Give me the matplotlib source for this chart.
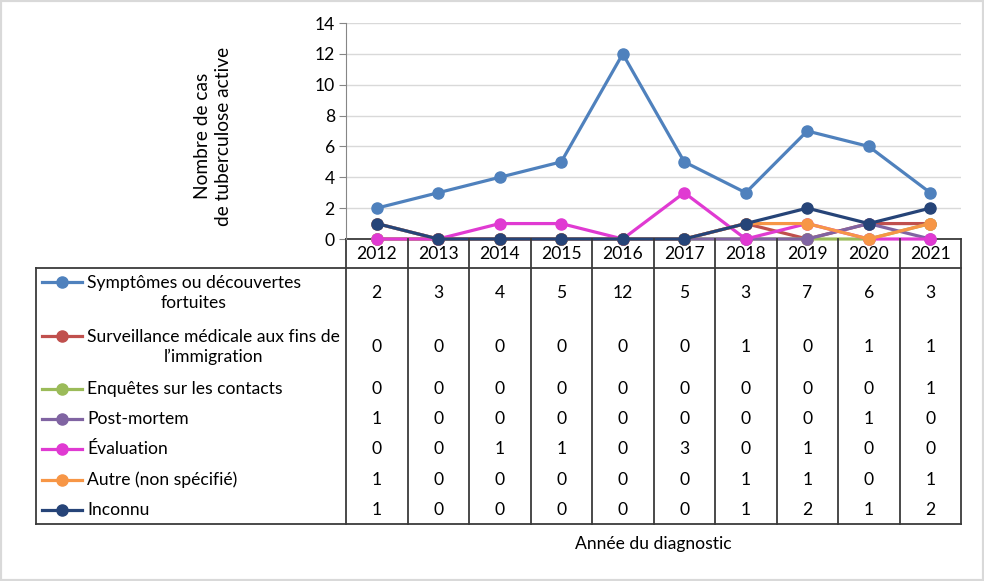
import numpy as np
import matplotlib
matplotlib.use("Agg")
import matplotlib.pyplot as plt
from matplotlib.lines import Line2D
from matplotlib.patches import Rectangle
from matplotlib.transforms import blended_transform_factory

plt.rcParams["font.family"] = ["Lato", "DejaVu Sans"]

YEARS = [2012, 2013, 2014, 2015, 2016, 2017, 2018, 2019, 2020, 2021]
LABELS = ["Symptômes ou découvertes\nfortuites",
          "Surveillance médicale aux fins de\nl\u2019immigration",
          "Enquêtes sur les contacts",
          "Post-mortem",
          "Évaluation",
          "Autre (non spécifié)",
          "Inconnu"]
SYMPTOMES = [2, 3, 4, 5, 12, 5, 3, 7, 6, 3]
SURVEILLANCE = [0, 0, 0, 0, 0, 0, 1, 0, 1, 1]
ENQUETES = [0, 0, 0, 0, 0, 0, 0, 0, 0, 1]
POST_MORTEM = [1, 0, 0, 0, 0, 0, 0, 0, 1, 0]
EVALUATION = [0, 0, 1, 1, 0, 3, 0, 1, 0, 0]
AUTRE = [1, 0, 0, 0, 0, 0, 1, 1, 0, 1]
INCONNU = [1, 0, 0, 0, 0, 0, 1, 2, 1, 2]
SERIES = [SYMPTOMES, SURVEILLANCE, ENQUETES, POST_MORTEM, EVALUATION, AUTRE, INCONNU]
COLORS = ["#4F81BD", "#C0504D", "#9BBB59", "#8064A2", "#E03AD2", "#F79646", "#264478"]

W, H = 984, 581
FS = 12.6


def fy(py):
    # pixel-from-top -> figure fraction
    return 1 - py / H


def fx(px):
    return px / W


fig = plt.figure(figsize=(W / 100, H / 100), dpi=100)
fig.add_artist(Rectangle((0, 0), 1, 1, transform=fig.transFigure, fill=False,
                         edgecolor="#D9D9D9", lw=3))

# plot area
X0, X1, YT, YB = 346, 961, 23, 239
ax = fig.add_axes([fx(X0), fy(YB), fx(X1 - X0), (YB - YT) / H])
x = np.arange(len(YEARS))
for vals, col in zip(SERIES, COLORS):
    ax.plot(x, vals, "-o", color=col, lw=2.3, ms=8, clip_on=False)

ax.set_xlim(-0.5, len(YEARS) - 0.5)
ax.set_ylim(0, 14)
ax.set_yticks(range(0, 15, 2))
ax.yaxis.grid(True, color="#D9D9D9", lw=1)
ax.set_axisbelow(True)
ax.set_xticks([])
for s in ["top", "right", "bottom"]:
    ax.spines[s].set_visible(False)
ax.spines["left"].set_color("#868686")
ax.tick_params(axis="y", length=5, color="#868686", labelsize=FS, pad=3)
fig.text(fx(213), fy(136), "Nombre de cas\nde tuberculose active", rotation=90,
         ha="center", va="center", fontsize=13.8, linespacing=1.3)

# data table below the axis
bt = blended_transform_factory(ax.transData, fig.transFigure)
LC, LW = "#3A3A3A", 1.3
HEAD_B, TAB_L, TAB_B = 268, 36, 524
ROW_Y = [293, 347, 389, 419, 449, 480, 510]

for b in np.arange(len(YEARS) + 1) - 0.5:
    ax.plot([b, b], [fy(YB), fy(TAB_B)], color=LC, lw=LW, transform=bt, clip_on=False)
ax.plot([-0.5, len(YEARS) - 0.5], [fy(YB), fy(YB)], color=LC, lw=LW, transform=bt,
        clip_on=False, zorder=1)
for yl in [HEAD_B, TAB_B]:
    fig.add_artist(Line2D([fx(TAB_L), fx(X1)], [fy(yl), fy(yl)], color=LC, lw=LW))
fig.add_artist(Line2D([fx(TAB_L), fx(TAB_L)], [fy(HEAD_B), fy(TAB_B)], color=LC, lw=LW))

for i, yr in enumerate(YEARS):
    ax.text(i, fy(254), str(yr), transform=bt, ha="center", va="center", fontsize=FS)

for vals, lab, col, ry in zip(SERIES, LABELS, COLORS, ROW_Y):
    for i, v in enumerate(vals):
        ax.text(i, fy(ry), str(v), transform=bt, ha="center", va="center", fontsize=FS)
    ly = ry - 11 if "\n" in lab else ry
    fig.add_artist(Line2D([fx(42), fx(82)], [fy(ly), fy(ly)], color=col, lw=2.3))
    fig.add_artist(Line2D([fx(62)], [fy(ly)], color=col, marker="o", ms=8, lw=0))
    fig.text(fx(87), fy(ry), lab, ha="left", va="center", multialignment="center",
             fontsize=FS, linespacing=1.25)

fig.text(fx((X0 + X1) / 2), fy(544), "Année du diagnostic", ha="center", va="center",
         fontsize=FS)

fig.savefig("out.png", dpi=100)
